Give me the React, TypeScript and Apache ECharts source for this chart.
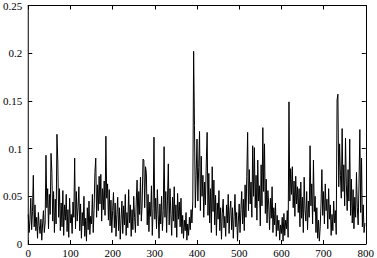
import React, { useEffect, useRef } from "react";
import * as echarts from "echarts";

const xTicks = [0, 100, 200, 300, 400, 500, 600, 700, 800];
const yTicks = [0, 0.05, 0.1, 0.15, 0.2, 0.25];
const xStep = 2;

const seg0 = [0.031,0.012,0.025,0.048,0.015,0.034,0.072,0.018,0.041,0.014,0.028,0.006,0.033,0.019,0.011,0.026,0.004,0.021,0.035,0.012];
const seg1 = [0.022,0.093,0.038,0.058,0.016,0.052,0.031,0.095,0.075,0.024,0.055,0.012,0.047,0.021,0.115,0.087,0.028,0.058,0.014,0.043];
const seg2 = [0.018,0.056,0.009,0.041,0.025,0.052,0.013,0.036,0.007,0.048,0.022,0.031,0.011,0.044,0.028,0.09,0.016,0.055,0.024,0.038];
const seg3 = [0.06,0.014,0.042,0.006,0.033,0.019,0.05,0.008,0.027,0.003,0.038,0.015,0.045,0.01,0.029,0.021,0.052,0.012,0.036,0.075];
const seg4 = [0.09,0.028,0.062,0.035,0.071,0.042,0.073,0.024,0.058,0.036,0.066,0.03,0.113,0.048,0.063,0.025,0.057,0.019,0.046,0.012];
const seg5 = [0.035,0.054,0.017,0.043,0.008,0.031,0.049,0.014,0.038,0.005,0.026,0.045,0.011,0.04,0.02,0.052,0.009,0.033,0.017,0.057];
const seg6 = [0.022,0.041,0.008,0.036,0.015,0.05,0.028,0.012,0.045,0.067,0.019,0.055,0.031,0.07,0.024,0.042,0.089,0.088,0.038,0.081];
const seg7 = [0.074,0.02,0.052,0.013,0.044,0.029,0.061,0.009,0.037,0.112,0.026,0.048,0.016,0.057,0.031,0.006,0.042,0.021,0.05,0.014];
const seg8 = [0.035,0.102,0.028,0.055,0.012,0.046,0.084,0.02,0.058,0.031,0.009,0.049,0.024,0.06,0.017,0.041,0.007,0.053,0.026,0.044];
const seg9 = [0.018,0.048,0.011,0.03,0.006,0.025,0.014,0.033,0.004,0.021,0.009,0.028,0.015,0.036,0.022,0.045,0.202,0.124,0.038,0.072];
const seg10 = [0.11,0.045,0.08,0.118,0.035,0.092,0.05,0.072,0.028,0.065,0.041,0.085,0.117,0.03,0.074,0.022,0.058,0.012,0.081,0.034];
const seg11 = [0.067,0.02,0.051,0.009,0.043,0.026,0.056,0.014,0.038,0.005,0.032,0.047,0.017,0.029,0.008,0.041,0.022,0.052,0.011,0.035];
const seg12 = [0.045,0.015,0.038,0.006,0.029,0.052,0.018,0.033,0.003,0.024,0.042,0.012,0.036,0.055,0.021,0.047,0.014,0.062,0.028,0.071];
const seg13 = [0.117,0.035,0.078,0.042,0.065,0.028,0.103,0.05,0.101,0.038,0.072,0.025,0.088,0.045,0.061,0.019,0.083,0.04,0.122,0.055];
const seg14 = [0.105,0.032,0.068,0.022,0.056,0.041,0.015,0.048,0.027,0.06,0.012,0.038,0.02,0.043,0.008,0.03,0.014,0.025,0.004,0.02];
const seg15 = [0.011,0.028,0.003,0.032,0.009,0.025,0.016,0.035,0.007,0.149,0.045,0.079,0.052,0.081,0.038,0.066,0.029,0.071,0.042,0.06];
const seg16 = [0.033,0.058,0.018,0.065,0.027,0.049,0.012,0.07,0.036,0.024,0.055,0.015,0.045,0.028,0.103,0.04,0.063,0.021,0.088,0.034];
const seg17 = [0.05,0.012,0.038,0.006,0.025,0.003,0.018,0.042,0.078,0.03,0.055,0.021,0.063,0.035,0.047,0.016,0.058,0.026,0.041,0.009];
const seg18 = [0.031,0.014,0.045,0.022,0.035,0.01,0.151,0.157,0.06,0.105,0.072,0.048,0.121,0.055,0.083,0.04,0.111,0.062,0.035,0.078];
const seg19 = [0.045,0.11,0.03,0.068,0.022,0.057,0.016,0.049,0.028,0.075,0.038,0.02,0.063,0.12,0.033,0.09,0.018,0.041,0.012,0.022];

const values = [
  ...seg0, ...seg1, ...seg2, ...seg3, ...seg4, ...seg5, ...seg6, ...seg7, ...seg8, ...seg9,
  ...seg10, ...seg11, ...seg12, ...seg13, ...seg14, ...seg15, ...seg16, ...seg17, ...seg18, ...seg19,
];

const FONT = "'Liberation Serif', 'Times New Roman', serif";

export default function App() {
  const ref = useRef<HTMLDivElement>(null);
  useEffect(() => {
    if (!ref.current) return;
    const chart = echarts.init(ref.current, null, { renderer: "svg" });
    const axisCommon = {
      type: "value" as const,
      axisLine: { show: true, onZero: false, lineStyle: { color: "#000", width: 1 } },
      axisTick: { show: true, inside: true, length: 4, lineStyle: { color: "#000" } },
      splitLine: { show: false },
    };
    const xMin = xTicks[0];
    const xMax = xTicks[xTicks.length - 1];
    const xInt = xTicks[1] - xTicks[0];
    const yMin = yTicks[0];
    const yMax = yTicks[yTicks.length - 1];
    const yInt = 0.05;
    chart.setOption({
      animation: false,
      backgroundColor: "#fff",
      grid: { left: 27, right: 10, top: 4, bottom: 14, containLabel: false },
      xAxis: [
        {
          ...axisCommon,
          position: "bottom",
          min: xMin, max: xMax, interval: xInt,
          axisLabel: { color: "#000", fontFamily: FONT, fontSize: 11, margin: 3 },
        },
        {
          ...axisCommon,
          position: "top",
          min: xMin, max: xMax, interval: xInt,
          axisLabel: { show: false },
        },
      ],
      yAxis: [
        {
          ...axisCommon,
          position: "left",
          min: yMin, max: yMax, interval: yInt,
          axisLabel: {
            color: "#000", fontFamily: FONT, fontSize: 11, margin: 6,
            formatter: (v: number) => String(parseFloat(v.toFixed(2))),
          },
        },
        {
          ...axisCommon,
          position: "right",
          min: yMin, max: yMax, interval: yInt,
          axisLabel: { show: false },
        },
      ],
      series: [
        {
          type: "line",
          data: values.map((v, i) => [i * xStep, v]),
          showSymbol: false,
          symbol: "none",
          lineStyle: { color: "#000", width: 1 },
          xAxisIndex: 0,
          yAxisIndex: 0,
        },
      ],
    });
    return () => chart.dispose();
  }, []);
  return <div ref={ref} style={{ width: 377, height: 258, position: "absolute", left: 0, top: 0 }} />;
}
